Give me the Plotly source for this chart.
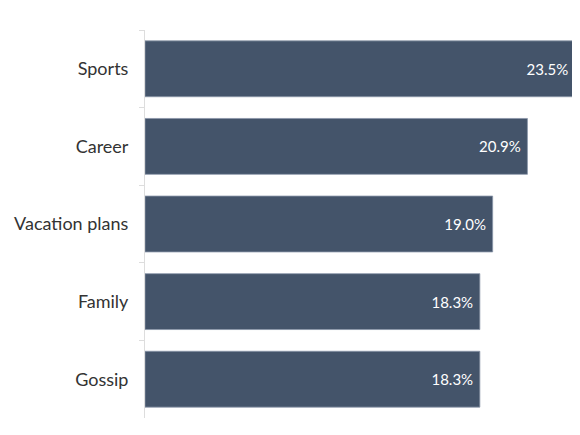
import plotly.graph_objects as go

categories = ["Sports", "Career", "Vacation plans", "Family", "Gossip"]
values = [23.5, 20.9, 19.0, 18.3, 18.3]
labels = ["23.5%", "20.9%", "19.0%", "18.3%", "18.3%"]

fig = go.Figure(go.Bar(
    x=values,
    y=categories,
    orientation="h",
    marker=dict(color="#44546a", line=dict(color="#8a96a8", width=0.8)),
    text=labels,
    texttemplate="%{text}\u2005",
    textposition="inside",
    insidetextanchor="end",
    textfont=dict(color="white", size=15, family="Lato"),
    cliponaxis=False,
    hoverinfo="skip",
))

fig.update_layout(
    width=572, height=427,
    margin=dict(l=137, r=5, t=22, b=17),
    paper_bgcolor="white", plot_bgcolor="white",
    bargap=0.28,
    showlegend=False,
    font=dict(family="Lato", color="#333333"),
)
fig.update_xaxes(range=[0, 23.5], visible=False, fixedrange=True)
fig.update_yaxes(
    autorange="reversed",
    showline=True, linecolor="#dddddd", linewidth=1,
    ticks="outside", tickson="boundaries", ticklen=5, tickcolor="#dddddd",
    showgrid=False,
    tickfont=dict(size=18, color="#333333", family="Lato"),
    ticklabelstandoff=12,
)

fig.write_html("out.html")
